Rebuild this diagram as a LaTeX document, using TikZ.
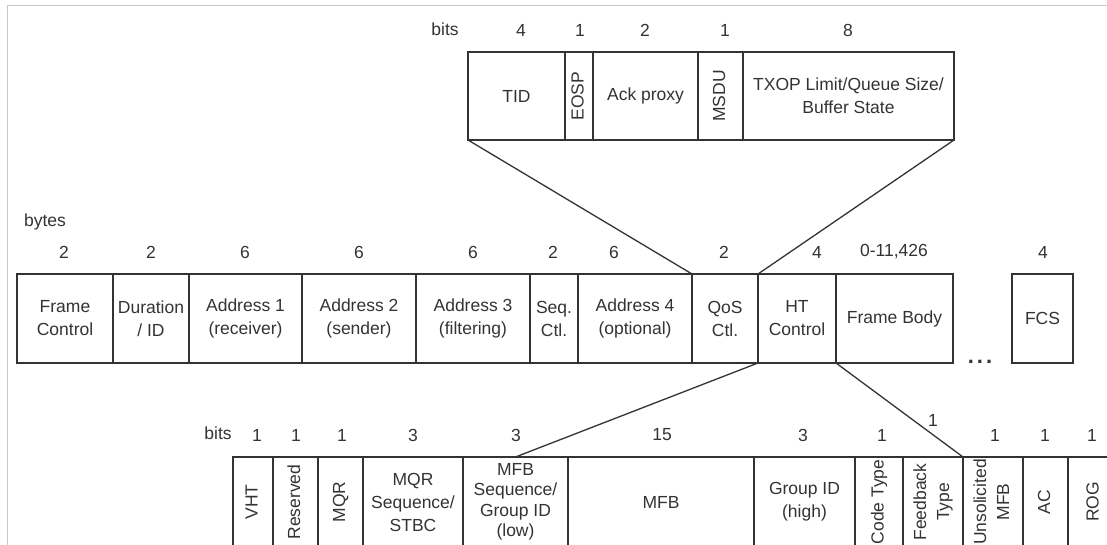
\documentclass[tikz,border=0pt]{standalone}
\usepackage{fontspec}
\setmainfont{Liberation Sans}
\definecolor{ink}{HTML}{333333}
\definecolor{edge}{HTML}{C8C8C8}
\newcommand{\vt}[1]{\rotatebox{90}{\begin{tabular}{@{}c@{}}#1\end{tabular}}}
\begin{document}
\begin{tikzpicture}[x=1pt,y=-1pt,font=\fontsize{17.5}{23}\selectfont,text=ink,
	fld/.style={draw=ink,line width=1.4pt,inner sep=0pt,outer sep=0pt,anchor=north west,align=center},
	upper/.style={fld,minimum height=88},
	mid/.style={fld,minimum height=89},
	low/.style={fld,minimum height=90},
	num/.style={inner sep=0pt},
	link/.style={draw=ink,line width=1.3pt}]
	\useasboundingbox (0,0) rectangle (1107,545);
	\clip (0,0) rectangle (1107,545);
	\draw[edge,line width=1pt] (7.5,545)--(7.5,5.5)--(1107,5.5);
	% QoS control bits
	\node[num] (bitsq) at (445,29) {bits};
	\node[upper,minimum width=97] (tid) at (468,52) {TID};
	\node[upper,minimum width=28] (eosp) at (565,52) {\vt{EOSP}};
	\node[upper,minimum width=105] (ack) at (593,52) {Ack proxy};
	\node[upper,minimum width=45] (msdu) at (698,52) {\vt{MSDU}};
	\node[upper,minimum width=211] (txop) at (743,52) {TXOP Limit/Queue Size/\\Buffer State};
	\foreach \x/\t [count=\i] in {521/4,580/1,645/2,725/1,848/8}
		\node[num] (q\i) at (\x,30) {\t};
	% MAC header
	\node[num] (bytes) at (45,222) {bytes};
	\node[mid,minimum width=96] (fc) at (17,274) {Frame\\Control};
	\node[mid,minimum width=76] (dur) at (113,274) {Duration\\/ ID};
	\node[mid,minimum width=113] (a1) at (189,274) {Address 1\\(receiver)};
	\node[mid,minimum width=114] (a2) at (302,274) {Address 2\\(sender)};
	\node[mid,minimum width=114] (a3) at (416,274) {Address 3\\(filtering)};
	\node[mid,minimum width=48] (seq) at (530,274) {Seq.\\Ctl.};
	\node[mid,minimum width=114] (a4) at (578,274) {Address 4\\(optional)};
	\node[mid,minimum width=66] (qos) at (692,274) {QoS\\Ctl.};
	\node[mid,minimum width=78] (ht) at (758,274) {HT\\Control};
	\node[mid,minimum width=117] (fb) at (836,274) {Frame Body};
	\node[mid,minimum width=61] (fcs) at (1012,274) {FCS};
	\node[num,anchor=base,font=\fontsize{22}{22}\selectfont\bfseries] (dots) at (980,363) {.\hspace{3pt}.\hspace{3pt}.};
	\foreach \x/\t [count=\i] in {64/2,151/2,245/6,359/6,473/6,553/2,614/6,724/2,817/4,894/{0-11,426},1043/4}
		\node[num] (m\i) at (\x,252) {\t};
	% HT control bits
	\node[num] (bitsh) at (218,433) {bits};
	\node[low,minimum width=40] (vht) at (233,457) {\vt{VHT}};
	\node[low,minimum width=45] (res) at (273,457) {\vt{Reserved}};
	\node[low,minimum width=45] (mqr) at (318,457) {\vt{MQR}};
	\node[low,minimum width=100] (mqrs) at (363,457) {MQR\\Sequence/\\STBC};
	\node[low,minimum width=105,font=\fontsize{17.5}{20.5}\selectfont] (mfbs) at (463,457) {MFB\\Sequence/\\Group ID\\(low)};
	\node[low,minimum width=186] (mfb) at (568,457) {MFB};
	\node[low,minimum width=101] (gid) at (754,457) {Group ID\\(high)};
	\node[low,minimum width=48] (code) at (855,457) {\vt{Code Type}};
	\node[low,minimum width=60] (fbt) at (903,457) {\vt{Feedback\\Type}};
	\node[low,minimum width=60] (unsol) at (963,457) {\vt{Unsolicited\\MFB}};
	\node[low,minimum width=45] (ac) at (1023,457) {\vt{AC}};
	\node[low,minimum width=52] (rog) at (1068,457) {\vt{ROG}};
	\foreach \x/\y/\t [count=\i] in {257/435/1,296/435/1,342/435/1,413/435/3,516/435/3,662/435/15,803/435/3,882/435/1,933/420/1,995/435/1,1045/435/1,1092/435/1}
		\node[num] (h\i) at (\x,\y) {\t};
	% zoom lines
	\draw[link] (tid.south west)--(qos.north west);
	\draw[link] (txop.south east)--(qos.north east);
	\draw[link] (ht.south west)--(mfbs.north);
	\draw[link] (ht.south east)--(unsol.north west);
\end{tikzpicture}
\end{document}
